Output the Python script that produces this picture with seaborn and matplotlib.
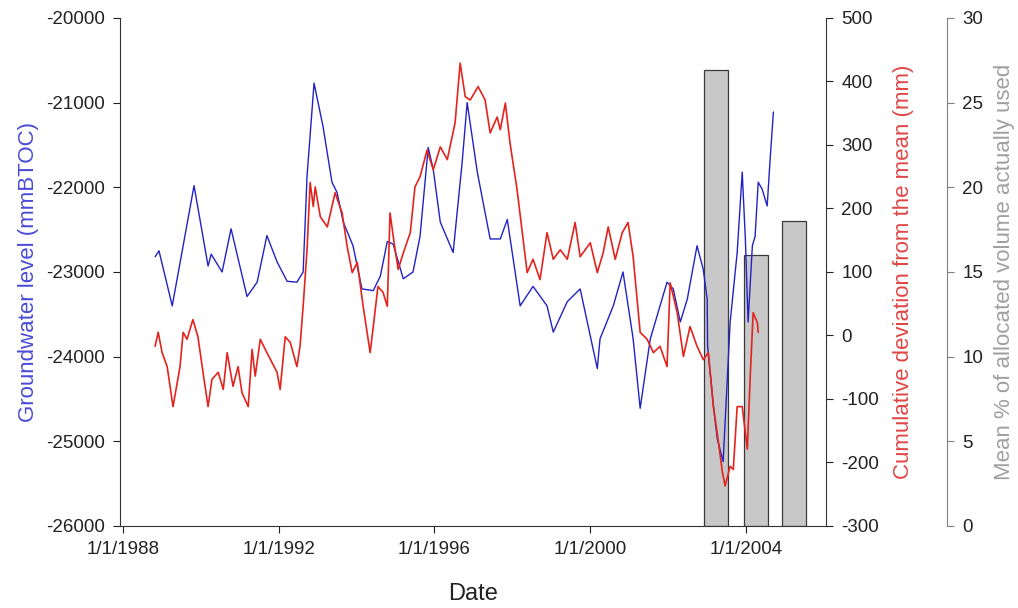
import numpy as np
import pandas as pd
import matplotlib
matplotlib.use('Agg')
import matplotlib.pyplot as plt
import seaborn as sns

# groundwater level (mmBTOC), decimal years
gw_years = [1988.83, 1988.93, 1989.27, 1989.83, 1990.19, 1990.27, 1990.55, 1990.78, 1991.19, 1991.45,
            1991.70, 1991.96, 1992.22, 1992.47, 1992.63, 1992.73, 1992.91, 1993.14, 1993.37, 1993.50,
            1993.66, 1993.91, 1994.14, 1994.43, 1994.61, 1994.79, 1994.94, 1995.20, 1995.45, 1995.63,
            1995.84, 1995.97, 1996.15, 1996.48, 1996.71, 1996.84, 1997.10, 1997.43, 1997.69, 1997.87,
            1998.20, 1998.53, 1998.89, 1999.05, 1999.41, 1999.74, 2000.18, 2000.25, 2000.59, 2000.84,
            2001.10, 2001.28, 2001.54, 2001.97, 2002.13, 2002.31, 2002.49, 2002.74, 2002.90, 2003.00,
            2003.01, 2003.16, 2003.26, 2003.41, 2003.59, 2003.77, 2003.90, 2003.98, 2004.05, 2004.16,
            2004.23, 2004.31, 2004.41, 2004.54, 2004.62, 2004.70]
gw_level = [-22820, -22750, -23400, -21980, -22930, -22790, -23000, -22490, -23290, -23120,
            -22570, -22880, -23110, -23120, -23000, -21870, -20770, -21280, -21940, -22060,
            -22410, -22690, -23200, -23220, -23050, -22640, -22670, -23080, -23000, -22580,
            -21530, -21790, -22410, -22770, -21710, -21000, -21820, -22610, -22610, -22380,
            -23400, -23170, -23400, -23710, -23350, -23200, -24140, -23790, -23400, -23000,
            -23790, -24610, -23790, -23120, -23200, -23590, -23320, -22690, -22970, -23320,
            -23870, -24580, -24970, -25240, -23590, -22770, -21820, -22610, -23590, -22690,
            -22580, -21940, -22020, -22220, -21640, -21110]

# cumulative deviation from the mean rainfall (mm)
cd_years = [1988.83, 1988.91, 1989.01, 1989.14, 1989.29, 1989.47, 1989.55, 1989.65, 1989.80, 1989.93,
            1990.06, 1990.19, 1990.29, 1990.45, 1990.58, 1990.68, 1990.83, 1990.96, 1991.06, 1991.22,
            1991.32, 1991.40, 1991.53, 1991.70, 1991.96, 1992.04, 1992.17, 1992.30, 1992.47, 1992.55,
            1992.63, 1992.73, 1992.81, 1992.89, 1992.94, 1993.07, 1993.25, 1993.45, 1993.63, 1993.76,
            1993.89, 1994.02, 1994.17, 1994.35, 1994.43, 1994.55, 1994.68, 1994.79, 1994.86, 1994.99,
            1995.07, 1995.20, 1995.38, 1995.50, 1995.63, 1995.81, 1995.97, 1996.15, 1996.33, 1996.53,
            1996.66, 1996.79, 1996.92, 1997.12, 1997.30, 1997.43, 1997.61, 1997.69, 1997.82, 1997.94,
            1998.12, 1998.38, 1998.53, 1998.71, 1998.89, 1999.05, 1999.23, 1999.41, 1999.61, 1999.74,
            2000.00, 2000.18, 2000.33, 2000.46, 2000.64, 2000.82, 2000.97, 2001.10, 2001.28, 2001.46,
            2001.62, 2001.79, 2001.97, 2002.05, 2002.23, 2002.39, 2002.56, 2002.74, 2002.90, 2003.03,
            2003.16, 2003.28, 2003.39, 2003.46, 2003.59, 2003.67, 2003.77, 2003.90, 2004.03, 2004.11,
            2004.18, 2004.29, 2004.31]
cd_mm = [-17, 5, -27, -49, -112, -49, 5, -6, 25, -2,
         -58, -112, -69, -58, -85, -27, -80, -49, -90, -112,
         -22, -64, -6, -27, -58, -85, -2, -11, -49, -17,
         46, 135, 241, 203, 234, 187, 171, 225, 193, 140,
         99, 115, 46, -27, 14, 77, 68, 46, 193, 135,
         104, 130, 162, 234, 250, 292, 261, 297, 277, 335,
         429, 376, 371, 392, 371, 319, 344, 324, 366, 303,
         230, 99, 120, 88, 162, 120, 135, 120, 178, 124,
         146, 99, 130, 171, 120, 162, 178, 124, 5, -6,
         -27, -17, -49, 83, 36, -33, 14, -17, -38, -27,
         -112, -164, -215, -237, -206, -211, -112, -112, -179, -58,
         36, 20, 5]

# mean % of allocated volume actually used
use_years = [2003.23, 2004.26, 2005.23]
use_pct = [26.9, 16.0, 18.0]

tick_years = [1988, 1992, 1996, 2000, 2004]
tick_labels = ['1/1/1988', '1/1/1992', '1/1/1996', '1/1/2000', '1/1/2004']

gw = pd.DataFrame({'year': gw_years, 'level': gw_level})
cd = pd.DataFrame({'year': cd_years, 'dev': cd_mm})

sns.set_style('ticks')
plt.rcParams['font.family'] = ['Liberation Sans', 'DejaVu Sans']
plt.rcParams['axes.unicode_minus'] = False

fig = plt.figure(figsize=(10.18, 6.08), dpi=100)
ax = fig.add_axes([0.1179, 0.1349, 0.6935, 0.8355])
ax2 = ax.twinx()
ax3 = ax.twinx()

# bars behind the lines
ax3.set_zorder(0)
ax.set_zorder(1)
ax2.set_zorder(2)
for a in (ax, ax2, ax3):
    a.patch.set_visible(False)

ax3.bar(use_years, use_pct, width=0.62, color='#c8c8c8', edgecolor='#3a3a3a', linewidth=0.9)
sns.lineplot(data=gw, x='year', y='level', ax=ax, color='#2222c4', linewidth=1.0)
sns.lineplot(data=cd, x='year', y='dev', ax=ax2, color='#e3241e', linewidth=1.2)

ax.set_xlim(1987.93, 2006.05)
ax.set_ylim(-26000, -20000)
ax2.set_ylim(-300, 500)
ax3.set_ylim(0, 30)

ax.set_xticks(tick_years)
ax.set_xticklabels(tick_labels)
ax.set_yticks(np.arange(-26000, -19999, 1000))
ax2.set_yticks(np.arange(-300, 501, 100))
ax3.set_yticks(np.arange(0, 31, 5))

for a in (ax, ax2, ax3):
    a.tick_params(labelsize=13.5, length=5, width=0.8, colors='#222222', pad=6)

ax.spines['top'].set_visible(False)
ax.spines['right'].set_visible(False)
ax2.spines['top'].set_visible(False)
ax2.spines['left'].set_visible(False)
ax2.spines['bottom'].set_visible(False)
ax3.spines['top'].set_visible(False)
ax3.spines['left'].set_visible(False)
ax3.spines['bottom'].set_visible(False)
ax3.spines['right'].set_position(('axes', 1.1714))
ax3.spines['right'].set_color('#808080')
ax3.tick_params(axis='y', color='#808080')
for s in ('left', 'bottom'):
    ax.spines[s].set_color('#333333')
ax2.spines['right'].set_color('#333333')

ax.set_xlabel('Date', fontsize=17, color='#222222', labelpad=18)
ax.set_ylabel('Groundwater level (mmBTOC)', fontsize=16, color='#4a4ad6', labelpad=5)
ax2.set_ylabel('Cumulative deviation from the mean (mm)', fontsize=16, color='#e04646', labelpad=10)
ax3.set_ylabel('Mean % of allocated volume actually used', fontsize=16, color='#a0a0a0', labelpad=8)

fig.savefig('out.png', dpi=100)
